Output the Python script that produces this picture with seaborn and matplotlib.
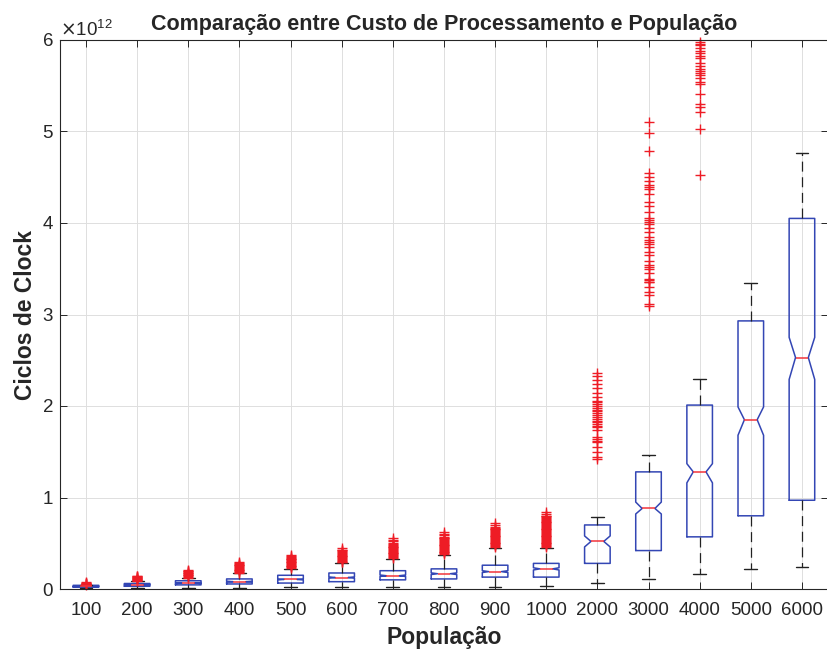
import numpy as np
import matplotlib
matplotlib.use('Agg')
import matplotlib.pyplot as plt
import seaborn as sns
from matplotlib.ticker import ScalarFormatter

# Valores (unidade: 1e12 ciclos de clock)
populacao = ['100', '200', '300', '400', '500', '600', '700', '800', '900', '1000',
             '2000', '3000', '4000', '5000', '6000']
q1 = [0.02, 0.03, 0.045, 0.055, 0.065, 0.08, 0.10, 0.11, 0.13, 0.13, 0.28, 0.42, 0.57, 0.80, 0.97]
mediana = [0.03, 0.045, 0.065, 0.08, 0.105, 0.125, 0.145, 0.167, 0.19, 0.22, 0.52, 0.88, 1.28, 1.85, 2.53]
q3 = [0.04, 0.06, 0.09, 0.11, 0.15, 0.175, 0.20, 0.22, 0.26, 0.28, 0.70, 1.28, 2.01, 2.93, 4.05]
bigode_inf = [0.01, 0.012, 0.012, 0.015, 0.018, 0.02, 0.022, 0.025, 0.025, 0.035, 0.065, 0.11, 0.16, 0.22, 0.24]
bigode_sup = [0.045, 0.085, 0.12, 0.17, 0.22, 0.28, 0.33, 0.37, 0.45, 0.45, 0.79, 1.46, 2.30, 3.34, 4.76]
entalhe_inf = [0.028, 0.042, 0.061, 0.075, 0.099, 0.118, 0.137, 0.158, 0.18, 0.208, 0.46, 0.82, 1.16, 1.68, 2.29]
entalhe_sup = [0.032, 0.048, 0.069, 0.085, 0.111, 0.132, 0.153, 0.176, 0.20, 0.232, 0.58, 0.95, 1.37, 1.99, 2.75]

out_100 = [0.046, 0.05, 0.055, 0.059, 0.064, 0.068, 0.072]
out_200 = [0.088, 0.094, 0.10, 0.106, 0.111, 0.117, 0.122, 0.128, 0.133, 0.139, 0.145]
out_300 = [0.125, 0.133, 0.141, 0.148, 0.156, 0.163, 0.171, 0.178, 0.186, 0.193, 0.201, 0.21]
out_400 = [0.176, 0.185, 0.194, 0.203, 0.212, 0.221, 0.23, 0.239, 0.248, 0.257, 0.266, 0.275,
           0.283, 0.291]
out_500 = [0.232, 0.24, 0.248, 0.256, 0.265, 0.273, 0.282, 0.29, 0.298, 0.307, 0.315, 0.324,
           0.332, 0.341, 0.35, 0.358, 0.367]
out_600 = [0.29, 0.30, 0.31, 0.319, 0.328, 0.338, 0.347, 0.357, 0.366, 0.376, 0.385, 0.395,
           0.404, 0.413, 0.422, 0.43, 0.445]
out_700 = [0.34, 0.35, 0.36, 0.369, 0.379, 0.388, 0.398, 0.407, 0.417, 0.426, 0.436, 0.445,
           0.455, 0.464, 0.474, 0.483, 0.493, 0.50, 0.52, 0.535, 0.555]
out_800 = [0.38, 0.39, 0.40, 0.409, 0.419, 0.428, 0.438, 0.447, 0.457, 0.466, 0.476, 0.485,
           0.495, 0.504, 0.514, 0.523, 0.533, 0.542, 0.552, 0.561, 0.57, 0.59, 0.605, 0.625]
out_900 = [0.46, 0.47, 0.48, 0.489, 0.499, 0.508, 0.518, 0.527, 0.537, 0.546, 0.556, 0.565,
           0.575, 0.584, 0.594, 0.603, 0.613, 0.622, 0.632, 0.641, 0.651, 0.66, 0.67, 0.68,
           0.70, 0.72]
out_1000 = [0.46, 0.47, 0.48, 0.489, 0.499, 0.508, 0.518, 0.527, 0.537, 0.546, 0.556, 0.565,
            0.575, 0.584, 0.594, 0.603, 0.613, 0.622, 0.632, 0.641, 0.651, 0.66, 0.67, 0.679,
            0.689, 0.698, 0.708, 0.717, 0.727, 0.736, 0.746, 0.755, 0.765, 0.774, 0.784, 0.793,
            0.80, 0.82, 0.84]
out_2000 = [1.42, 1.445, 1.50, 1.555, 1.61, 1.62, 1.64, 1.66, 1.74, 1.77, 1.78, 1.80, 1.82,
            1.84, 1.86, 1.88, 1.90, 1.92, 1.94, 1.96, 1.98, 2.00, 2.02, 2.04, 2.06, 2.10, 2.14,
            2.20, 2.24, 2.28, 2.33, 2.36]
out_3000 = [3.09, 3.12, 3.21, 3.25, 3.30, 3.35, 3.36, 3.38, 3.39, 3.45, 3.50, 3.52, 3.54, 3.59,
            3.65, 3.68, 3.74, 3.77, 3.79, 3.81, 3.85, 3.90, 3.95, 3.99, 4.01, 4.03, 4.06, 4.12,
            4.19, 4.23, 4.32, 4.37, 4.39, 4.41, 4.46, 4.50, 4.55, 4.79, 4.98, 5.10]
out_4000 = [4.53, 5.03, 5.21, 5.27, 5.30, 5.41, 5.52, 5.54, 5.59, 5.62, 5.64, 5.66, 5.68, 5.72,
            5.75, 5.80, 5.83, 5.86, 5.88, 5.91, 5.94, 5.96, 5.98]
out_5000 = []
out_6000 = []

outliers = [out_100, out_200, out_300, out_400, out_500, out_600, out_700, out_800, out_900,
            out_1000, out_2000, out_3000, out_4000, out_5000, out_6000]

escala = 1e12

sns.set_style('ticks')
plt.rcParams['font.family'] = ['Liberation Sans', 'DejaVu Sans']

stats = []
for i, rot in enumerate(populacao):
    stats.append({
        'label': rot,
        'med': mediana[i] * escala,
        'q1': q1[i] * escala,
        'q3': q3[i] * escala,
        'whislo': bigode_inf[i] * escala,
        'whishi': bigode_sup[i] * escala,
        'cilo': entalhe_inf[i] * escala,
        'cihi': entalhe_sup[i] * escala,
        'fliers': np.array(outliers[i]) * escala,
    })

fig = plt.figure(figsize=(8.27, 6.55), dpi=100)
ax = fig.add_axes([60.4 / 827, 1 - 589 / 655, (827.5 - 60.4) / 827, (589 - 40) / 655])

azul = '#3346b4'
vermelho = '#ee1c25'
res = ax.bxp(stats, positions=np.arange(1, len(populacao) + 1), widths=0.5, shownotches=True,
             boxprops=dict(color=azul, linewidth=1.1),
             medianprops=dict(color='#f2343a', linewidth=1.1),
             whiskerprops=dict(color='#222222', linewidth=0.9, linestyle=(0, (8, 4.5))),
             capprops=dict(color='#222222', linewidth=1.0),
             flierprops=dict(marker='+', markeredgecolor=vermelho, markersize=6.5,
                             markeredgewidth=1.0, linestyle='none'))
for f in res['fliers']:
    f.set_clip_on(False)

ax.set_xlim(0.5, len(populacao) + 0.5)
ax.set_ylim(0, 6e12)
ax.set_yticks(np.arange(0, 7) * escala)
fmt = ScalarFormatter(useMathText=True)
ax.yaxis.set_major_formatter(fmt)
ax.yaxis.get_offset_text().set_fontsize(13.5)
ax.yaxis.get_offset_text().set_color('#262626')

ax.grid(True, color='#dedede', linewidth=0.7)
ax.set_axisbelow(True)
ax.tick_params(direction='in', length=5, width=0.7, top=True, right=True,
               labelsize=13.5, labelcolor='#262626')
ax.tick_params(axis='x', pad=9.5)
ax.tick_params(axis='y', pad=5)
for s in ax.spines.values():
    s.set_color('#262626')
    s.set_linewidth(0.8)

ax.set_title('Comparação entre Custo de Processamento e População', fontsize=15.5,
             fontweight='bold', pad=7)
ax.set_xlabel('População', fontsize=16.5, fontweight='bold', labelpad=5)
ax.set_ylabel('Ciclos de Clock', fontsize=16.5, fontweight='bold', labelpad=3)

fig.savefig('out.png', dpi=100)
